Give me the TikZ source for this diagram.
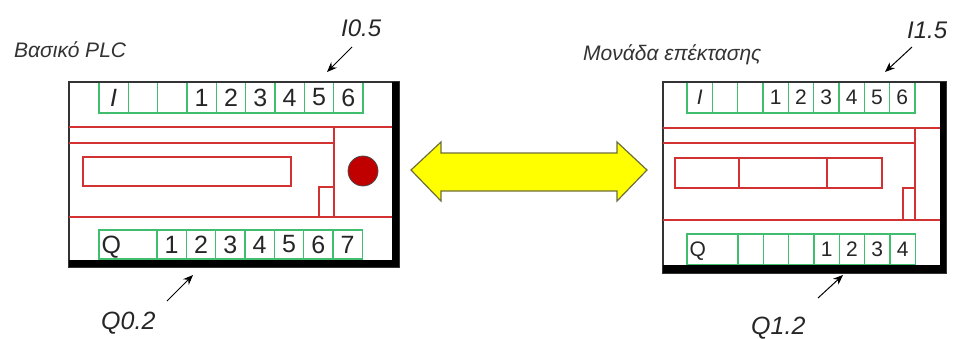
\documentclass[tikz,border=0pt]{standalone}
\usepackage{fontspec}
\setmainfont{Liberation Sans}
\usetikzlibrary{arrows.meta}
\definecolor{cellgreen}{RGB}{64,190,110}
\definecolor{plcred}{RGB}{210,50,50}
\definecolor{ledred}{RGB}{192,0,0}
\definecolor{arrowyellow}{RGB}{255,255,0}
\definecolor{arrowedge}{RGB}{110,110,60}
\begin{document}
\begin{tikzpicture}[x=1pt,y=-1pt,
  cellA/.style={draw=cellgreen,line width=1.3pt,minimum width=29.33pt,inner sep=0pt,font=\fontsize{25}{25}\selectfont,text=black!85},
  cellB/.style={draw=cellgreen,line width=1.3pt,minimum width=25.33pt,inner sep=0pt,font=\fontsize{21}{21}\selectfont,text=black!85},
  qlblA/.style={anchor=west,inner sep=0pt,text depth=0pt,font=\fontsize{25}{25}\selectfont,text=black!85},
  qlblB/.style={anchor=west,inner sep=0pt,text depth=0pt,font=\fontsize{21}{21}\selectfont,text=black!85},
  redline/.style={draw=plcred,line width=1.1pt},
  caselbl/.style={anchor=west,inner sep=0pt,font=\fontsize{21}{21}\selectfont\itshape,text=black!80},
  addrlbl/.style={anchor=west,inner sep=0pt,font=\fontsize{25}{25}\selectfont\itshape,text=black!85},
  ptr/.style={draw=black,line width=1pt,-{Stealth[length=10pt,width=8pt]}},
  frame/.style={draw=black!80,line width=1.5pt},
  thick edge/.style={fill=black}
]
\useasboundingbox (0,0) rectangle (955,338);

% ---------- left PLC ----------
\foreach \t [count=\i from 0] in {{\itshape I},,,1,2,3,4,5,6}{
  \node[cellA,minimum height=31pt] (lt\i) at ({99+29.33*(\i+0.5)},97.5) {\t};
}
\node[cellA,minimum height=29pt,minimum width=58.67pt] (lbQ) at (128.33,244.5) {};
\node[qlblA] (lbQt) at ([xshift=3pt]lbQ.west) {Q};
\foreach \t [count=\i from 1] in {1,2,3,4,5,6,7}{
  \node[cellA,minimum height=29pt] (lb\i) at ({157+29.33*(\i-0.5)},244.5) {\t};
}
\draw[frame] (69,82) rectangle (399,267);
\fill[thick edge] (392,82) rectangle (399,267);
\fill[thick edge] (69,260) rectangle (399,267);
\draw[redline] (69,127) -- (392,127);
\draw[redline] (69,143) -- (334,143);
\draw[redline] (334,127) -- (334,217);
\draw[redline] (69,217) -- (392,217);
\draw[redline] (83,157) rectangle (291,186);
\draw[redline] (319,217) -- (319,187) -- (334,187);
\node[circle,fill=ledred,draw=black!70,line width=0.8pt,minimum size=30pt,inner sep=0pt] (led) at (363,171) {};

% ---------- right PLC ----------
\foreach \t [count=\i from 0] in {{\itshape I},,,1,2,3,4,5,6}{
  \node[cellB,minimum height=31pt] (rt\i) at ({687+25.33*(\i+0.5)},97.5) {\t};
}
\node[cellB,minimum height=31pt,minimum width=50.67pt] (rbQ) at (712.33,249.5) {};
\node[qlblB] (rbQt) at ([xshift=3pt]rbQ.west) {Q};
\foreach \t [count=\i from 1] in {,,,1,2,3,4}{
  \node[cellB,minimum height=31pt] (rb\i) at ({738+25.33*(\i-0.5)},249.5) {\t};
}
\draw[frame] (663,82) rectangle (946,273);
\fill[thick edge] (940,82) rectangle (946,273);
\fill[thick edge] (663,265) rectangle (946,273);
\draw[redline] (663,128) -- (940,128);
\draw[redline] (663,143) -- (915,143);
\draw[redline] (915,128) -- (915,220);
\draw[redline] (663,220) -- (940,220);
\draw[redline] (675,158) rectangle (882,188);
\draw[redline] (739,158) -- (739,188);
\draw[redline] (827,158) -- (827,188);
\draw[redline] (903,220) -- (903,188) -- (915,188);

% ---------- double arrow ----------
\draw[fill=arrowyellow,draw=arrowedge,line width=1.2pt,line join=miter]
  (411,170) -- (441,142) -- (441,153) -- (617,153) -- (617,142) -- (647,170)
  -- (617,201) -- (617,191) -- (441,191) -- (441,201) -- cycle;

% ---------- labels ----------
\node[caselbl] (basic) at (14,50) {Βασικό PLC};
\node[caselbl] (expn) at (583,55) {Μονάδα επέκτασης};
\node[addrlbl,font=\fontsize{24}{24}\selectfont\itshape] (i05) at (341,28) {I0.5};
\node[addrlbl,font=\fontsize{24}{24}\selectfont\itshape] (i15) at (907,30) {I1.5};
\node[addrlbl] (q02) at (101,323) {Q0.2};
\node[addrlbl] (q12) at (751,328) {Q1.2};

\coordinate (i05s) at (352,47);  \coordinate (i05e) at (327,72);
\coordinate (i15s) at (912,47);  \coordinate (i15e) at (885,72);
\coordinate (q02s) at (167,301); \coordinate (q02e) at (193,275);
\coordinate (q12s) at (818,298); \coordinate (q12e) at (843,275);
\draw[ptr] (i05s) -- (i05e);
\draw[ptr] (i15s) -- (i15e);
\draw[ptr] (q02s) -- (q02e);
\draw[ptr] (q12s) -- (q12e);
\end{tikzpicture}
\end{document}
